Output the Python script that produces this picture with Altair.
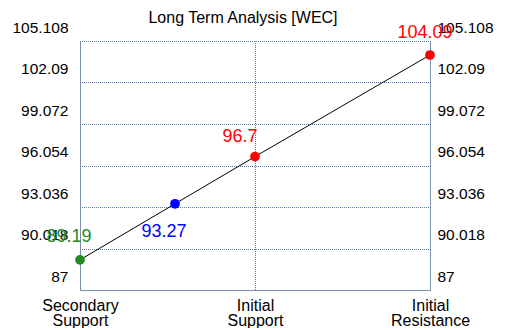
import altair as alt
import pandas as pd

# ---- data ----
categories = ["Secondary Support", "Initial Support", "Initial Resistance"]
category_pos = [0, 1, 2]
point_x = [0, 0.543, 1, 2]
point_values = [89.19, 93.27, 96.7, 104.09]
point_colors = ["#228B22", "#0000FF", "#FF0000", "#FF0000"]
y_ticks = [87, 90.018, 93.036, 96.054, 99.072, 102.09, 105.108]
title_text = "Long Term Analysis [WEC]"

df = pd.DataFrame({"x": point_x, "v": point_values, "c": point_colors,
                   "i": list(range(len(point_values)))})

FONT = "Liberation Sans"
AXIS_COLOR = "#7B8DB0"
GRID_COLOR = "#5F75A0"

x_scale = alt.Scale(domain=[category_pos[0], category_pos[-1]], nice=False, zero=False)
y_scale = alt.Scale(domain=[y_ticks[0], y_ticks[-1]], nice=False, zero=False)

# multi-line category labels
parts = []
for p, name in zip(category_pos[:-1], categories[:-1]):
    words = name.split(" ")
    parts.append(f"datum.value == {p} ? [" + ",".join(f"'{w}'" for w in words) + "]")
last_words = categories[-1].split(" ")
x_label_expr = " : ".join(parts) + " : [" + ",".join(f"'{w}'" for w in last_words) + "]"

x_axis = alt.Axis(values=category_pos, labelExpr=x_label_expr, grid=True,
                  gridDash=[1, 1], gridDashOffset=0.5, gridColor=GRID_COLOR,
                  gridOpacity=1, domainColor=AXIS_COLOR, ticks=False,
                  labelFontSize=16, labelFont=FONT, labelColor="black",
                  labelPadding=7, labelLineHeight=15, title=None,
                  labelOverlap=False, labelFlush=False)

y_axis_left = alt.Axis(values=y_ticks, labelExpr="'' + datum.value", grid=True,
                       gridDash=[1, 1], gridDashOffset=0.5, gridColor=GRID_COLOR,
                       gridOpacity=1, domainColor=AXIS_COLOR, ticks=False,
                       labelPadding=12, labelOffset=-14, labelFontSize=15.5,
                       labelFont=FONT, labelColor="black", title=None,
                       labelOverlap=False, labelFlush=False)

y_axis_right = alt.Axis(values=y_ticks, labelExpr="'' + datum.value", grid=False,
                        orient="right", domainColor=AXIS_COLOR, ticks=False,
                        labelPadding=7, labelOffset=-14, labelFontSize=15.5,
                        labelFont=FONT, labelColor="black", title=None,
                        labelOverlap=False, labelFlush=False)

base = alt.Chart(df)
X = alt.X("x:Q", scale=x_scale, axis=x_axis)
Y_noaxis = alt.Y("v:Q", scale=y_scale, axis=None)

line = base.mark_line(color="black", strokeWidth=1).encode(
    x=X, y=alt.Y("v:Q", scale=y_scale, axis=y_axis_left), order="x:Q")

right_axis = base.mark_point(opacity=0).encode(
    x=X, y=alt.Y("v:Q", scale=y_scale, axis=y_axis_right))

points = base.mark_circle(size=95, opacity=1).encode(
    x=X, y=Y_noaxis, color=alt.Color("c:N", scale=None))

offsets = [(-11, -23), (-11, 28), (-15, -20), (-5, -22)]
texts = []
for i, (dx, dy) in enumerate(offsets):
    texts.append(
        base.transform_filter(alt.datum.i == i).mark_text(
            dx=dx, dy=dy, fontSize=18, font=FONT, baseline="middle", align="center"
        ).encode(x=X, y=Y_noaxis, text="v:N",
                 color=alt.Color("c:N", scale=None))
    )

chart = alt.layer(line, right_axis, points, *texts).resolve_axis(
    y="independent"
).properties(
    width=350, height=249,
    padding={"left": 72, "top": 33, "right": 72, "bottom": 38},
    autosize=alt.AutoSizeParams(type="none"),
    background="white",
    title=alt.Title(title_text, fontSize=16, font=FONT, fontWeight="normal",
                    color="black", dx=-12, dy=10, frame="group"),
).configure_view(stroke=None)

chart.save("out.html", embed_options={"renderer": "svg", "actions": False})
